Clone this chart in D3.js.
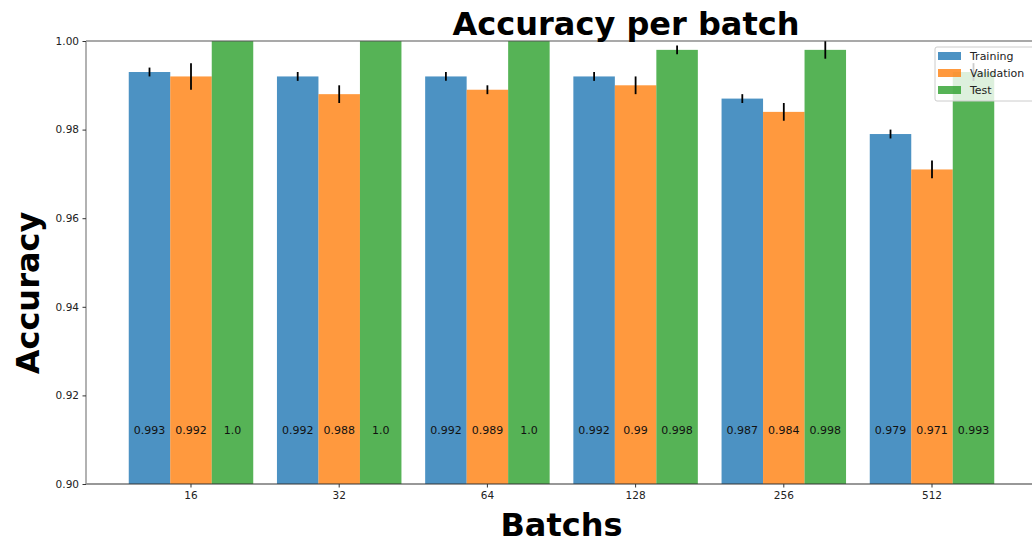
<!DOCTYPE html>
<html>
<head>
<meta charset="utf-8">
<script src="https://cdn.jsdelivr.net/npm/d3@7"></script>
<style>
  body { margin: 0; background: #fff; }
  svg { font-family: "DejaVu Sans", sans-serif; }
</style>
</head>
<body>
<svg id="chart"></svg>
<script>
// chart data
const batches = ["16", "32", "64", "128", "256", "512"];
const series = ["Training", "Validation", "Test"];
const training = [0.993, 0.992, 0.992, 0.992, 0.987, 0.979];
const validation = [0.992, 0.988, 0.989, 0.990, 0.984, 0.971];
const test = [1.0, 1.0, 1.0, 0.998, 0.998, 0.993];
const trainingErr = [0.001, 0.001, 0.001, 0.001, 0.001, 0.001];
const validationErr = [0.003, 0.002, 0.001, 0.002, 0.002, 0.002];
const testErr = [0, 0, 0, 0.001, 0.002, 0.002];
const labels = [
  ["0.993", "0.992", "0.992", "0.992", "0.987", "0.979"],
  ["0.992", "0.988", "0.989", "0.99", "0.984", "0.971"],
  ["1.0", "1.0", "1.0", "0.998", "0.998", "0.993"]
];
const yTicks = [0.90, 0.92, 0.94, 0.96, 0.98, 1.00];

const width = 1032;
const height = 544;
const plot = { left: 86, right: 1037, top: 41, bottom: 484 };
const colors = ["#1f77b4", "#ff7f0e", "#2ca02c"];

const values = [training, validation, test];
const errors = [trainingErr, validationErr, testErr];

const svg = d3.select("#chart").attr("width", width).attr("height", height);

// scales
const xScale = d3.scaleBand()
  .domain(batches)
  .range([plot.left, plot.right])
  .paddingInner(0.16)
  .paddingOuter(0.2885);
const xSub = d3.scaleBand()
  .domain(series)
  .range([0, xScale.bandwidth()]);
const yScale = d3.scaleLinear()
  .domain([0.9, 1.0])
  .range([plot.bottom, plot.top]);

// clip to the axes area
svg.append("defs").append("clipPath")
  .attr("id", "plotclip")
  .append("rect")
  .attr("x", plot.left)
  .attr("y", plot.top)
  .attr("width", plot.right - plot.left)
  .attr("height", plot.bottom - plot.top);

const bars = svg.append("g").attr("clip-path", "url(#plotclip)");

// bars
series.forEach((s, si) => {
  bars.selectAll(".bar-" + si)
    .data(values[si])
    .enter()
    .append("rect")
    .attr("x", (d, i) => xScale(batches[i]) + xSub(s))
    .attr("y", d => yScale(d))
    .attr("width", xSub.bandwidth())
    .attr("height", d => plot.bottom - yScale(d))
    .attr("fill", colors[si])
    .attr("fill-opacity", 0.8);
});

// error bars
series.forEach((s, si) => {
  bars.selectAll(".err-" + si)
    .data(values[si])
    .enter()
    .append("line")
    .attr("x1", (d, i) => xScale(batches[i]) + xSub(s) + xSub.bandwidth() / 2)
    .attr("x2", (d, i) => xScale(batches[i]) + xSub(s) + xSub.bandwidth() / 2)
    .attr("y1", (d, i) => yScale(d - errors[si][i]))
    .attr("y2", (d, i) => yScale(d + errors[si][i]))
    .attr("stroke", "#000")
    .attr("stroke-width", 1.8);
});

// value labels inside bars
series.forEach((s, si) => {
  svg.selectAll(".label-" + si)
    .data(labels[si])
    .enter()
    .append("text")
    .attr("x", (d, i) => xScale(batches[i]) + xSub(s) + xSub.bandwidth() / 2)
    .attr("y", yScale(0.912))
    .attr("dy", "0.3em")
    .attr("text-anchor", "middle")
    .attr("font-size", "11px")
    .attr("fill", "#111")
    .text(d => d);
});

// spines
svg.append("line")
  .attr("x1", plot.left).attr("x2", plot.right)
  .attr("y1", plot.top).attr("y2", plot.top)
  .attr("stroke", "#555").attr("stroke-width", 1.2);
svg.append("line")
  .attr("x1", plot.left).attr("x2", plot.right)
  .attr("y1", plot.bottom).attr("y2", plot.bottom)
  .attr("stroke", "#333").attr("stroke-width", 1.2);
svg.append("line")
  .attr("x1", plot.left).attr("x2", plot.left)
  .attr("y1", plot.top).attr("y2", plot.bottom)
  .attr("stroke", "#999").attr("stroke-width", 1.5);

// y axis
const yAxis = svg.append("g")
  .attr("transform", `translate(${plot.left},0)`)
  .call(d3.axisLeft(yScale).tickValues(yTicks).tickFormat(d3.format(".2f"))
    .tickSize(3.5).tickPadding(3.5).tickSizeOuter(0));
yAxis.select(".domain").remove();
yAxis.selectAll("line").attr("stroke", "#333");
yAxis.selectAll("text").attr("font-size", "10.5px").attr("fill", "#222")
  .attr("font-family", "DejaVu Sans");

// x axis
const xAxis = svg.append("g")
  .attr("transform", `translate(0,${plot.bottom})`)
  .call(d3.axisBottom(xScale).tickSize(3.5).tickPadding(4).tickSizeOuter(0));
xAxis.select(".domain").remove();
xAxis.selectAll("line").attr("stroke", "#333");
xAxis.selectAll("text").attr("font-size", "10.5px").attr("fill", "#222")
  .attr("font-family", "DejaVu Sans");

// title and axis labels
svg.append("text")
  .attr("x", 626)
  .attr("y", 35)
  .attr("text-anchor", "middle")
  .attr("font-size", "32px")
  .attr("font-weight", "bold")
  .text("Accuracy per batch");

svg.append("text")
  .attr("x", (plot.left + plot.right) / 2)
  .attr("y", 536)
  .attr("text-anchor", "middle")
  .attr("font-size", "32px")
  .attr("font-weight", "bold")
  .text("Batchs");

svg.append("text")
  .attr("transform", "translate(39,293) rotate(-90)")
  .attr("text-anchor", "middle")
  .attr("font-size", "32px")
  .attr("font-weight", "bold")
  .text("Accuracy");

// legend
const legend = svg.append("g").attr("transform", "translate(935,47)");
legend.append("rect")
  .attr("x", 0).attr("y", 0)
  .attr("width", 110).attr("height", 54)
  .attr("rx", 2)
  .attr("fill", "#fff").attr("fill-opacity", 0.8)
  .attr("stroke", "#ccc").attr("stroke-width", 1);
series.forEach((s, si) => {
  const row = legend.append("g").attr("transform", `translate(0,${9 + si * 17})`);
  row.append("rect")
    .attr("x", 3).attr("y", -4)
    .attr("width", 23).attr("height", 8)
    .attr("fill", colors[si]).attr("fill-opacity", 0.8);
  row.append("text")
    .attr("x", 35).attr("y", 0)
    .attr("dy", "0.35em")
    .attr("font-size", "11px")
    .attr("fill", "#222")
    .text(s);
});
</script>
</body>
</html>
